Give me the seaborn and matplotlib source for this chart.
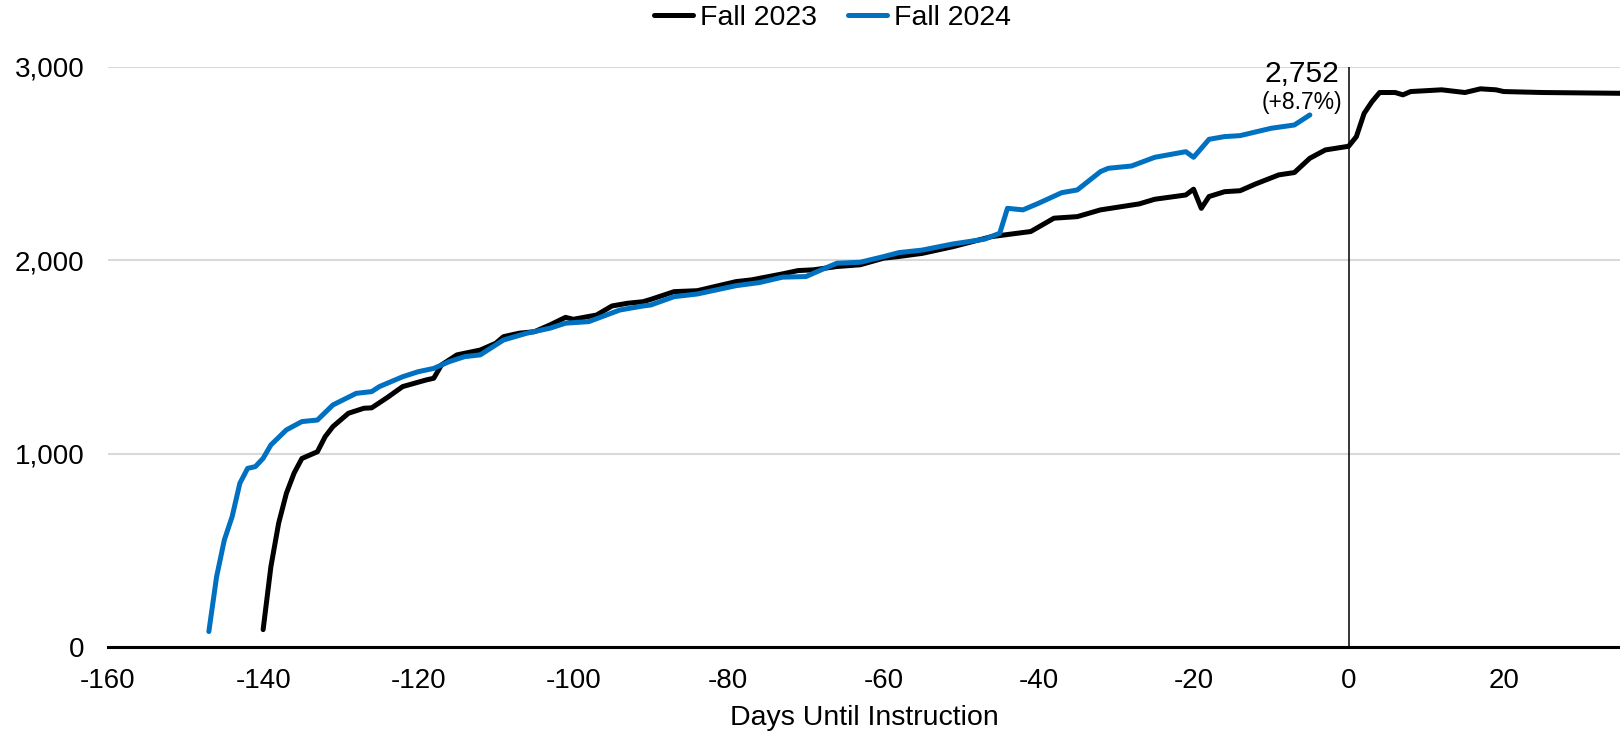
import pandas as pd
import seaborn as sns
import matplotlib.pyplot as plt

# Days until instruction vs. cumulative count
days_2023 = [-140, -139, -138, -137, -136, -135, -133, -132, -131, -129, -127, -126,
             -124, -122, -119, -118, -117, -115, -112, -110, -109, -107, -105, -103,
             -101, -100, -97, -95, -93, -91, -90, -87, -84, -79, -77, -73, -71, -69,
             -66, -63, -60, -58, -55, -51, -46, -41, -38, -35, -32, -27, -25, -21,
             -20, -19, -18, -16, -14, -12, -9, -7, -5, -3, 0, 1, 2, 3, 4, 6, 7, 8,
             12, 15, 17, 19, 20, 25, 35]
fall_2023 = [90, 415, 640, 795, 900, 975, 1010, 1088, 1140, 1209, 1235, 1237,
             1290, 1347, 1381, 1390, 1459, 1511, 1536, 1571, 1605, 1623, 1631, 1666,
             1705, 1695, 1717, 1764, 1778, 1786, 1798, 1838, 1843, 1890, 1899, 1930,
             1947, 1951, 1968, 1977, 2011, 2020, 2036, 2071, 2123, 2149, 2218, 2226,
             2261, 2292, 2316, 2338, 2368, 2269, 2330, 2355, 2360, 2395, 2442, 2454,
             2528, 2571, 2590, 2640, 2760, 2820, 2868, 2868, 2856, 2873, 2882, 2868,
             2887, 2882, 2873, 2868, 2864]

days_2024 = [-147, -146, -145, -144, -143, -142, -141, -140, -139, -137, -135, -133,
             -131, -128, -126, -125, -122, -120, -118, -116, -114, -112, -109, -106,
             -103, -101, -98, -94, -91, -90, -87, -84, -79, -76, -73, -70, -68, -66,
             -63, -60, -58, -55, -51, -47, -45, -44, -42, -40, -37, -35, -32, -31,
             -28, -25, -21, -20, -18, -16, -14, -10, -7, -5]
fall_2024 = [80, 364, 554, 674, 847, 924, 933, 976, 1045, 1123, 1166, 1174,
             1252, 1312, 1321, 1347, 1398, 1424, 1441, 1476, 1502, 1511, 1588, 1623,
             1649, 1675, 1683, 1743, 1764, 1769, 1812, 1826, 1869, 1885, 1913, 1916,
             1951, 1985, 1990, 2019, 2040, 2053, 2085, 2109, 2140, 2269, 2261, 2295,
             2350, 2364, 2459, 2476, 2488, 2533, 2562, 2533, 2626, 2640, 2645, 2683,
             2700, 2752]

x_ticks = [-160, -140, -120, -100, -80, -60, -40, -20, 0, 20]
y_ticks = [0, 1000, 2000, 3000]

df23 = pd.DataFrame({'day': days_2023, 'count': fall_2023})
df24 = pd.DataFrame({'day': days_2024, 'count': fall_2024})

sns.set_style('white')
plt.rcParams['font.family'] = ['Liberation Sans', 'DejaVu Sans']
plt.rcParams['axes.unicode_minus'] = False
plt.rcParams['text.color'] = 'black'
plt.rcParams['axes.labelcolor'] = 'black'

fig = plt.figure(figsize=(16.2, 7.37), dpi=100)
ax = fig.add_axes([0.0667, 0.1221, 0.9333, 0.7870])

sns.lineplot(data=df23, x='day', y='count', ax=ax, color='black', lw=3.6, label='Fall 2023')
sns.lineplot(data=df24, x='day', y='count', ax=ax, color='#0070C0', lw=3.6, label='Fall 2024')

ax.axvline(0, color='black', lw=1.1, zorder=1)

ax.set_xlim(-160, 35)
ax.set_ylim(0, 3000)
ax.set_xticks(x_ticks)
ax.set_yticks(y_ticks)
ax.set_yticklabels([f'{v:,}' for v in y_ticks])
ax.tick_params(axis='both', length=0, labelsize=20, colors='black')
ax.tick_params(axis='y', pad=17)
ax.tick_params(axis='x', pad=15)
ax.yaxis.grid(True, color='#d9d9d9', lw=1.5)
ax.set_axisbelow(True)

for side in ['top', 'right', 'left']:
    ax.spines[side].set_visible(False)
ax.spines['bottom'].set_color('black')
ax.spines['bottom'].set_linewidth(2.2)

ax.set_xlabel('Days Until Instruction', fontsize=20.5, labelpad=8)
ax.set_ylabel('')

# label for the latest Fall 2024 value
last = fall_2024[-1]
ax.text(-1.2, 2964, f'{last:,}', ha='right', va='center', fontsize=21.5, clip_on=False)
ax.text(-0.8, 2814, '(+8.7%)', ha='right', va='center', fontsize=16.5, clip_on=False)

handles, labels = ax.get_legend_handles_labels()
ax.get_legend().remove()
fig.legend(handles, labels, loc='center', bbox_to_anchor=(0.514, 0.975), ncol=2,
           frameon=False, fontsize=20.5, handlelength=1.35, handletextpad=0.25,
           columnspacing=1.1)

fig.savefig('out.png', dpi=100)
